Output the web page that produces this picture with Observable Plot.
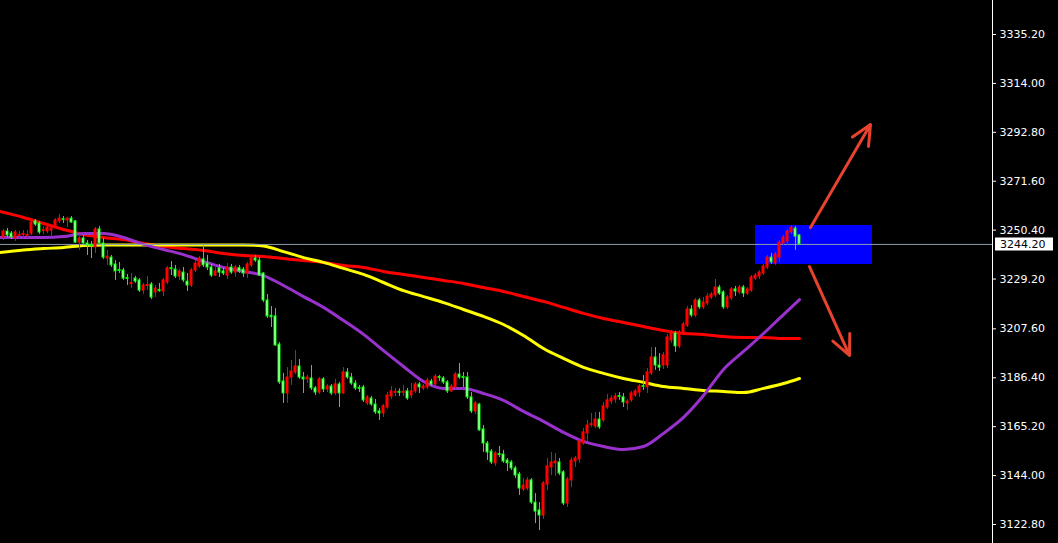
<!DOCTYPE html>
<html>
<head>
<meta charset="utf-8">
<script src="https://cdn.jsdelivr.net/npm/d3@7"></script>
<script src="https://cdn.jsdelivr.net/npm/@observablehq/plot@0.6"></script>
<style>
  html, body { margin: 0; padding: 0; background: #000; overflow: hidden; }
</style>
</head>
<body>
<div id="chart"></div>
<script>
// OHLC bars, oldest first
const open = [
  3247.2, 3249.8, 3248.9, 3246.8, 3247.9, 3248.3, 3247.9, 3248.9, 3254.2, 3253.3,
  3250.0, 3249.8, 3250.2, 3252.4, 3254.2, 3255.1, 3254.6, 3255.4, 3254.2, 3245.0,
  3246.8, 3244.6, 3244.0, 3242.9, 3250.7, 3244.6, 3238.1, 3238.5, 3235.5, 3233.1,
  3232.9, 3229.6, 3227.0, 3229.4, 3228.6, 3224.2, 3226.2, 3226.8, 3223.4, 3224.4,
  3223.8, 3227.7, 3233.9, 3233.3, 3230.3, 3232.0, 3228.1, 3226.4, 3232.9, 3234.6,
  3237.7, 3235.9, 3234.2, 3230.7, 3233.8, 3232.5, 3230.7, 3234.2, 3232.0, 3234.0,
  3233.3, 3231.6, 3235.1, 3238.1, 3237.2, 3231.6, 3219.9, 3213.3, 3213.0, 3200.8,
  3184.8, 3179.6, 3186.5, 3188.7, 3191.3, 3186.5, 3185.7, 3186.1, 3181.8, 3180.0,
  3185.7, 3181.3, 3182.6, 3179.6, 3183.5, 3179.6, 3188.7, 3186.5, 3183.9, 3182.0,
  3182.2, 3175.3, 3177.4, 3174.8, 3171.8, 3170.9, 3173.5, 3178.3, 3179.9, 3180.3,
  3179.9, 3180.5, 3178.7, 3180.5, 3183.5, 3181.8, 3182.2, 3184.8, 3183.5, 3186.7,
  3186.1, 3184.4, 3180.5, 3182.2, 3187.8, 3186.7, 3186.5, 3177.9, 3171.8, 3174.8,
  3164.0, 3157.9, 3154.4, 3149.3, 3153.3, 3153.1, 3150.5, 3149.7, 3147.1, 3144.5,
  3138.0, 3138.4, 3141.9, 3132.3, 3128.9, 3126.7, 3140.1, 3147.5, 3149.3, 3149.7,
  3145.4, 3131.9, 3141.9, 3150.1, 3151.0, 3157.9, 3162.3, 3165.9, 3165.3, 3168.3,
  3167.9, 3173.5, 3176.1, 3177.0, 3178.5, 3177.9, 3175.3, 3176.6, 3178.7, 3180.0,
  3182.8, 3182.2, 3188.3, 3195.2, 3191.7, 3191.7, 3191.7, 3202.6, 3205.6, 3200.0,
  3205.6, 3209.1, 3216.0, 3213.4, 3219.9, 3216.9, 3218.6, 3221.2, 3222.1, 3225.5,
  3223.4, 3216.9, 3220.8, 3224.7, 3223.4, 3225.5, 3222.9, 3224.2, 3229.4, 3230.3,
  3231.6, 3234.2, 3238.5, 3235.9, 3238.5, 3244.6, 3245.5, 3249.4, 3251.1, 3248.1
];
const high = [
  3250.7, 3251.1, 3249.8, 3250.2, 3249.8, 3250.2, 3250.2, 3254.6, 3255.0, 3254.2,
  3252.0, 3252.4, 3252.4, 3255.4, 3257.2, 3256.3, 3255.9, 3256.3, 3254.6, 3247.6,
  3248.1, 3245.9, 3245.5, 3251.5, 3252.0, 3246.8, 3241.6, 3239.4, 3237.2, 3236.4,
  3233.8, 3231.2, 3231.6, 3230.3, 3229.4, 3227.3, 3230.3, 3227.7, 3226.4, 3227.3,
  3229.4, 3234.6, 3236.8, 3235.1, 3233.3, 3234.2, 3231.6, 3233.8, 3237.2, 3238.9,
  3243.7, 3239.4, 3235.5, 3235.1, 3235.5, 3233.8, 3235.9, 3235.5, 3235.1, 3235.1,
  3234.2, 3236.4, 3238.9, 3239.4, 3238.5, 3232.0, 3222.5, 3217.3, 3216.4, 3201.7,
  3188.3, 3190.8, 3193.9, 3198.2, 3194.3, 3188.7, 3187.4, 3191.7, 3182.6, 3186.5,
  3186.5, 3183.5, 3183.5, 3185.7, 3184.4, 3190.8, 3190.4, 3188.3, 3185.2, 3183.1,
  3183.1, 3178.7, 3178.3, 3177.0, 3173.1, 3174.8, 3180.0, 3182.6, 3181.8, 3181.6,
  3183.1, 3181.8, 3183.9, 3184.4, 3184.4, 3183.5, 3186.1, 3185.7, 3187.8, 3187.4,
  3186.9, 3185.2, 3183.5, 3188.7, 3192.6, 3188.7, 3188.7, 3180.0, 3176.1, 3175.3,
  3165.7, 3158.8, 3155.3, 3154.4, 3156.6, 3154.9, 3151.4, 3150.5, 3148.0, 3145.4,
  3142.7, 3143.2, 3142.7, 3136.2, 3132.3, 3141.4, 3151.4, 3154.0, 3153.6, 3151.4,
  3146.2, 3143.2, 3151.8, 3152.3, 3160.1, 3164.4, 3167.9, 3170.9, 3171.4, 3171.4,
  3175.7, 3179.2, 3178.7, 3179.6, 3180.0, 3179.6, 3177.0, 3180.5, 3181.3, 3183.5,
  3187.4, 3190.4, 3199.5, 3199.5, 3196.9, 3197.4, 3205.2, 3206.9, 3206.5, 3206.9,
  3210.4, 3217.3, 3217.7, 3220.8, 3220.8, 3221.2, 3222.9, 3223.4, 3229.0, 3226.4,
  3224.2, 3222.1, 3225.5, 3226.0, 3226.4, 3226.4, 3225.5, 3230.7, 3231.6, 3232.9,
  3235.5, 3239.4, 3240.3, 3240.7, 3245.9, 3248.1, 3250.7, 3252.4, 3252.0, 3248.5
];
const low = [
  3245.9, 3247.2, 3246.3, 3245.5, 3246.3, 3246.8, 3246.8, 3248.1, 3252.0, 3248.5,
  3248.5, 3248.9, 3247.2, 3251.5, 3253.3, 3253.3, 3251.5, 3253.3, 3244.6, 3241.6,
  3243.7, 3239.4, 3238.1, 3240.3, 3243.7, 3237.7, 3235.1, 3234.2, 3228.6, 3231.6,
  3228.6, 3226.4, 3225.1, 3227.3, 3223.4, 3222.5, 3224.2, 3220.3, 3221.2, 3223.4,
  3221.6, 3226.8, 3230.7, 3229.4, 3228.6, 3227.7, 3223.8, 3225.5, 3232.0, 3233.8,
  3234.2, 3232.9, 3229.9, 3230.3, 3229.9, 3230.7, 3229.0, 3231.2, 3229.9, 3231.6,
  3229.9, 3229.4, 3234.2, 3236.4, 3230.3, 3219.0, 3212.1, 3208.2, 3200.0, 3183.5,
  3175.3, 3175.3, 3183.1, 3187.8, 3185.7, 3179.6, 3183.9, 3180.9, 3178.7, 3179.2,
  3180.0, 3180.0, 3178.7, 3178.7, 3173.5, 3179.2, 3185.7, 3183.1, 3180.9, 3180.0,
  3175.7, 3174.4, 3174.0, 3170.5, 3167.9, 3169.2, 3172.7, 3177.0, 3178.3, 3178.3,
  3178.3, 3176.6, 3177.4, 3179.6, 3179.6, 3180.9, 3181.3, 3182.6, 3182.6, 3184.8,
  3183.5, 3179.6, 3180.0, 3181.3, 3185.7, 3182.2, 3177.0, 3170.9, 3170.5, 3163.1,
  3154.0, 3150.5, 3148.8, 3148.0, 3151.8, 3149.3, 3145.8, 3146.2, 3142.7, 3135.4,
  3137.1, 3137.5, 3131.5, 3123.2, 3120.2, 3125.0, 3137.5, 3144.0, 3143.6, 3144.0,
  3131.0, 3130.2, 3138.8, 3147.5, 3149.3, 3157.1, 3158.8, 3164.9, 3164.4, 3164.0,
  3167.0, 3172.7, 3174.8, 3175.3, 3176.6, 3173.5, 3172.2, 3175.7, 3177.9, 3177.9,
  3180.9, 3179.6, 3187.4, 3189.6, 3189.1, 3190.0, 3190.4, 3201.3, 3197.4, 3199.1,
  3204.7, 3208.2, 3212.5, 3212.5, 3216.0, 3216.0, 3217.7, 3220.3, 3221.2, 3222.1,
  3216.0, 3216.0, 3219.9, 3221.6, 3222.5, 3221.2, 3222.1, 3223.4, 3228.6, 3229.0,
  3230.7, 3233.3, 3235.5, 3235.1, 3236.4, 3243.7, 3243.7, 3248.5, 3241.6, 3243.7
];
const close = [
  3249.8, 3248.1, 3247.2, 3249.4, 3248.3, 3248.7, 3248.3, 3253.7, 3252.8, 3249.4,
  3250.4, 3251.5, 3251.1, 3254.6, 3255.4, 3254.8, 3255.4, 3253.7, 3245.0, 3246.8,
  3244.6, 3243.7, 3243.5, 3250.7, 3244.6, 3238.5, 3238.9, 3235.1, 3232.5, 3232.7,
  3229.4, 3229.2, 3227.5, 3228.1, 3224.2, 3226.4, 3226.6, 3221.2, 3225.1, 3224.0,
  3228.6, 3233.8, 3233.5, 3230.3, 3232.5, 3228.6, 3226.4, 3232.9, 3235.9, 3238.1,
  3235.1, 3234.2, 3230.7, 3232.5, 3232.0, 3231.6, 3234.2, 3232.0, 3234.2, 3232.5,
  3231.6, 3235.5, 3238.1, 3237.2, 3230.7, 3219.9, 3213.0, 3212.6, 3200.4, 3184.4,
  3179.6, 3186.5, 3189.1, 3191.3, 3186.5, 3185.7, 3186.5, 3181.8, 3180.0, 3185.7,
  3181.3, 3182.6, 3179.6, 3183.5, 3179.6, 3188.7, 3186.5, 3183.9, 3181.8, 3181.6,
  3176.6, 3177.9, 3174.8, 3171.4, 3170.9, 3174.0, 3178.7, 3180.5, 3180.3, 3179.9,
  3180.3, 3177.4, 3180.5, 3183.5, 3182.2, 3182.6, 3185.2, 3183.5, 3186.9, 3186.3,
  3184.4, 3180.5, 3182.6, 3187.8, 3186.5, 3186.3, 3177.9, 3171.8, 3175.3, 3163.6,
  3157.9, 3154.0, 3149.7, 3153.6, 3152.9, 3150.1, 3149.3, 3147.1, 3144.0, 3138.4,
  3139.7, 3141.9, 3132.3, 3128.4, 3126.7, 3140.6, 3148.0, 3149.7, 3150.1, 3144.9,
  3131.9, 3142.3, 3150.5, 3151.4, 3158.8, 3162.7, 3165.7, 3166.3, 3168.3, 3164.9,
  3174.0, 3176.6, 3177.4, 3178.3, 3178.1, 3175.7, 3176.1, 3179.6, 3180.5, 3182.6,
  3182.4, 3188.7, 3195.2, 3191.7, 3190.8, 3196.1, 3203.9, 3205.6, 3200.0, 3206.0,
  3209.5, 3216.0, 3213.4, 3219.9, 3216.9, 3219.0, 3221.6, 3222.5, 3225.5, 3222.9,
  3216.9, 3221.2, 3224.7, 3223.8, 3225.5, 3222.9, 3224.7, 3229.9, 3230.7, 3232.0,
  3234.6, 3238.5, 3236.4, 3239.8, 3245.0, 3247.2, 3249.8, 3251.5, 3247.6, 3244.2
];

// Moving averages, sampled at these bar numbers
const maBars = [-1, 5, 10, 15, 20, 25, 30, 35, 40, 45, 50, 55, 60, 65, 70, 75, 80, 85, 90, 95,
  100, 105, 110, 115, 120, 125, 130, 135, 140, 145, 150, 155, 160, 165, 170, 175, 180, 185, 190, 195, 199];
const maSlow = [3258.5, 3255.9, 3253.3, 3250.7, 3248.5, 3247.2, 3246.3, 3244.6, 3243.3, 3242.4,
  3241.6, 3240.3, 3239.4, 3239.0, 3238.1, 3237.2, 3236.4, 3235.1, 3234.2, 3232.5,
  3231.2, 3229.9, 3228.6, 3227.3, 3225.5, 3223.8, 3221.6, 3219.5, 3216.9, 3214.3,
  3212.1, 3210.4, 3208.6, 3206.9, 3205.6, 3205.2, 3204.3, 3203.9, 3203.9, 3203.4, 3203.4];
const maMid = [3240.7, 3241.8, 3242.4, 3242.9, 3243.7, 3244.0, 3244.0, 3244.0, 3244.0, 3244.0,
  3244.0, 3244.0, 3244.0, 3243.5, 3241.1, 3238.5, 3236.4, 3233.8, 3231.2, 3227.7,
  3224.2, 3221.6, 3219.0, 3216.0, 3213.0, 3209.5, 3204.7, 3199.1, 3194.8, 3190.9,
  3188.3, 3186.1, 3184.4, 3182.6, 3181.8, 3180.9, 3180.5, 3180.0, 3181.8, 3183.9, 3186.1];
const maFast = [3247.2, 3247.2, 3247.2, 3247.6, 3248.9, 3248.9, 3247.2, 3244.2, 3242.0, 3239.8,
  3236.8, 3234.2, 3232.5, 3230.7, 3226.4, 3221.6, 3216.9, 3211.2, 3205.2, 3198.2,
  3191.3, 3184.8, 3181.8, 3181.8, 3179.6, 3176.6, 3171.8, 3167.5, 3162.7, 3158.8,
  3156.6, 3155.3, 3156.6, 3162.3, 3169.2, 3178.7, 3190.0, 3197.8, 3205.6, 3213.8, 3220.3];

// Price scale labels
const priceTicks = [3335.2, 3314.0, 3292.8, 3271.6, 3250.4, 3229.2, 3207.6, 3186.4, 3165.2, 3144.0, 3122.8];

// Highlighted zone (bar range and price range) and the two scenario arrows
const zoneBars = [188, 217.25];
const zonePrices = [3235.5, 3252.4];
const arrowFromBar = [201.75, 201.5];
const arrowFromPrice = [3251.5, 3234.6];
const arrowToBar = [216.75, 211.5];
const arrowToPrice = [3296.2, 3196.1];

const bars = d3.range(open.length).map(i => ({i, o: open[i], h: high[i], l: low[i], c: close[i]}));
const upBars = bars.filter(d => d.c >= d.o);
const downBars = bars.filter(d => d.c < d.o);
const lastClose = close[close.length - 1];
const maRows = (vals) => maBars.map((b, i) => ({b, v: vals[i]}));
const arrowRows = arrowFromBar.map((_, i) => ({
  x1: arrowFromBar[i], y1: arrowFromPrice[i], x2: arrowToBar[i], y2: arrowToPrice[i]
}));

const xMax = 247.25;
const UP = "#ff0000", DOWN = "#00ff00";

// Boxed label for the last price on the price scale
function lastPriceLabel(index, scales, values, dims) {
  const y = scales.y(lastClose);
  const x0 = dims.width - dims.marginRight;
  const g = d3.create("svg:g");
  g.append("rect").attr("x", x0 + 3).attr("y", Math.round(y) - 6.5)
    .attr("width", 58).attr("height", 13).attr("fill", "#ffffff");
  g.append("text").attr("x", x0 + 8).attr("y", y).attr("dy", "0.36em")
    .attr("text-anchor", "start").attr("fill", "#000000")
    .attr("font-size", 11).text(lastClose.toFixed(2));
  return g.node();
}

const chart = Plot.plot({
  width: 1058,
  height: 543,
  marginLeft: 0,
  marginRight: 66,
  marginTop: 0,
  marginBottom: 0,
  style: {background: "#000000", color: "#ffffff", fontFamily: "DejaVu Sans", fontSize: "11px"},
  x: {domain: [-0.75, xMax], axis: null},
  y: {domain: [3114.56, 3349.94]},
  marks: [
    Plot.rect([0], {x1: zoneBars[0], x2: zoneBars[1], y1: zonePrices[0], y2: zonePrices[1], fill: "#0000ff"}),
    Plot.line(maRows(maSlow), {x: "b", y: "v", stroke: "#ff0000", strokeWidth: 3, curve: "monotone-x", clip: true}),
    Plot.line(maRows(maMid), {x: "b", y: "v", stroke: "#ffff00", strokeWidth: 3, curve: "monotone-x", clip: true}),
    Plot.line(maRows(maFast), {x: "b", y: "v", stroke: "#9932cc", strokeWidth: 3, curve: "monotone-x", clip: true}),
    Plot.ruleY([lastClose], {x1: -0.75, x2: xMax, stroke: "#8b9bb0", strokeWidth: 1}),
    Plot.ruleX(upBars, {x: "i", y1: "l", y2: "h", stroke: UP}),
    Plot.ruleX(downBars, {x: "i", y1: "l", y2: "h", stroke: DOWN}),
    Plot.rect(upBars, {x1: d => d.i - 0.25, x2: d => d.i + 0.25, y1: "o", y2: "c", fill: UP, stroke: UP}),
    Plot.rect(downBars, {x1: d => d.i - 0.25, x2: d => d.i + 0.25, y1: "o", y2: "c", fill: "#f4fff4", stroke: DOWN}),
    Plot.arrow(arrowRows, {x1: "x1", y1: "y1", x2: "x2", y2: "y2", stroke: "#e8432e", strokeWidth: 3, headLength: 11, headAngle: 50}),
    Plot.ruleX([xMax], {stroke: "#ffffff"}),
    Plot.axisY(priceTicks, {anchor: "right", tickSize: 3, tickPadding: 4, tickFormat: d => d.toFixed(2), color: "#ffffff"}),
    lastPriceLabel
  ]
});

document.getElementById("chart").appendChild(chart);
</script>
</body>
</html>
